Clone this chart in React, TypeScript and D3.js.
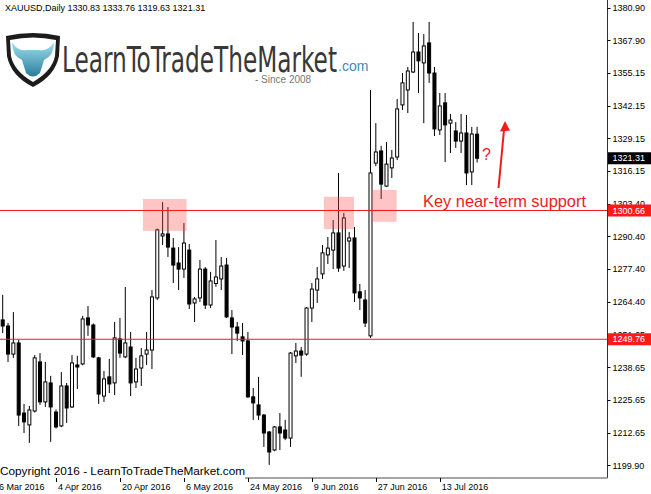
import React from 'react';
import * as d3 from 'd3';

const opens = [1257.4,1255.0,1243.9,1248.3,1220.6,1215.9,1221.4,1240.8,1225.0,1232.5,1221.0,1215.5,1231.3,1223.0,1239.6,1240.0,1258.2,1255.4,1242.4,1227.3,1234.9,1232.5,1249.9,1242.8,1246.7,1232.9,1238.4,1243.9,1245.5,1266.1,1290.6,1291.4,1285.8,1279.9,1277.5,1285.0,1264.1,1266.1,1277.5,1263.3,1271.8,1273.6,1279.1,1258.2,1254.6,1250.7,1249.1,1227.0,1223.8,1219.8,1213.1,1206.0,1215.1,1213.9,1210.7,1243.2,1245.1,1243.9,1262.1,1269.2,1275.6,1283.1,1285.0,1291.8,1278.7,1288.6,1289.8,1268.5,1265.3,1251.1,1319.4,1324.2,1310.3,1317.5,1321.8,1342.4,1348.3,1355.4,1363.3,1359.0,1366.9,1355.0,1332.5,1343.2,1335.2,1332.1,1328.1,1331.3,1315.9,1330.83];
const highs = [1267.3,1256.2,1260.5,1249.5,1224.2,1223.4,1243.5,1244.3,1240.8,1235.3,1222.0,1236.8,1232.5,1243.5,1243.2,1259.0,1262.9,1256.0,1242.8,1237.2,1242.0,1256.6,1258.2,1270.4,1252.6,1242.4,1246.3,1252.6,1269.2,1293.5,1304.0,1302.0,1289.8,1286.2,1295.7,1287.4,1266.5,1281.1,1278.3,1276.4,1289.0,1282.3,1281.9,1261.3,1256.6,1256.2,1252.6,1230.5,1234.9,1220.2,1213.5,1215.5,1220.6,1217.9,1244.7,1248.3,1246.7,1262.5,1272.0,1278.3,1287.0,1290.2,1296.9,1315.5,1299.7,1292.2,1294.1,1271.6,1269.2,1348.3,1335.2,1326.2,1327.7,1324.6,1344.7,1355.0,1357.4,1375.2,1370.8,1370.4,1375.2,1357.4,1347.1,1347.1,1338.8,1335.6,1338.8,1338.4,1333.7,1333.76];
const lows = [1252.2,1240.8,1242.4,1215.5,1212.7,1208.8,1220.8,1223.8,1223.0,1209.2,1214.5,1215.0,1216.7,1222.6,1230.1,1239.5,1251.1,1242.3,1224.2,1225.0,1228.5,1227.7,1242.4,1242.3,1227.3,1230.5,1231.3,1239.6,1238.0,1265.3,1287.0,1282.3,1272.0,1269.2,1274.0,1261.7,1256.6,1264.5,1261.7,1262.1,1270.5,1269.2,1258.2,1243.9,1249.1,1243.5,1226.6,1217.9,1217.9,1207.2,1200.1,1205.5,1206.0,1209.9,1207.2,1240.4,1234.9,1243.2,1256.6,1264.1,1273.6,1279.5,1277.5,1276.4,1276.8,1277.9,1264.5,1261.3,1254.6,1250.3,1318.2,1305.2,1310.0,1313.5,1320.6,1340.4,1339.2,1355.0,1347.1,1335.2,1351.1,1330.1,1330.5,1319.8,1323.4,1325.4,1323.4,1310.7,1310.7,1319.63];
const closes = [1255.0,1243.9,1248.3,1219.8,1217.1,1221.8,1242.4,1225.0,1232.9,1223.0,1215.1,1231.3,1222.6,1240.4,1238.8,1257.8,1255.4,1242.8,1228.1,1234.1,1232.1,1250.3,1244.3,1248.3,1232.5,1238.0,1243.2,1245.5,1266.5,1293.0,1291.4,1286.2,1279.1,1277.5,1287.8,1263.7,1265.7,1277.5,1263.3,1272.8,1274.4,1278.7,1258.6,1254.6,1252.2,1249.1,1227.0,1224.6,1219.8,1212.7,1205.2,1215.1,1212.7,1210.7,1244.3,1245.1,1243.5,1262.1,1269.6,1273.6,1283.9,1285.8,1291.8,1277.9,1297.7,1289.8,1268.1,1266.1,1256.2,1315.5,1323.8,1311.1,1319.0,1321.4,1340.8,1351.1,1355.8,1363.3,1359.8,1365.7,1355.0,1332.9,1342.0,1334.5,1336.4,1328.1,1331.3,1315.5,1330.9,1321.31];

const priceTicks = [1380.90,1367.90,1355.15,1342.15,1329.15,1316.15,1303.40,1290.40,1277.40,1264.40,1251.65,1238.65,1225.65,1212.65,1199.90];
const dateTickIndex = [-2, 10, 22, 34, 46, 58, 70, 82];
const dateTickLabels = ['16 Mar 2016','4 Apr 2016','20 Apr 2016','6 May 2016','24 May 2016','9 Jun 2016','27 Jun 2016','13 Jul 2016'];

const supportLevel = 1300.66;
const lowerLevel = 1249.76;
const lastPrice = 1321.31;

// highlighted zones: start index, end index, low price, high price
const zoneStart = [26.3, 60.25, 69.2];
const zoneEnd = [34.5, 65.9, 73.9];
const zoneLow = [1292.6, 1293.3, 1296.2];
const zoneHigh = [1305.2, 1306.1, 1308.8];

const headerText = 'XAUUSD,Daily  1330.83 1333.76 1319.63 1321.31';
const annotationText = 'Key near-term support';
const copyrightText = 'Copyright 2016 - LearnToTradeTheMarket.com';

const W = 651, H = 494;
const plotRight = 607.5;
const plotBottom = 478;
const RED = '#ee1c1c';
const FONT = "'Liberation Sans', Arial, sans-serif";

export default function App() {
  const y = d3.scaleLinear().domain([1199.9, 1380.9]).range([465.4, 7.5]);
  const x = d3.scaleLinear().domain([0, 89]).range([2.7, 477.1]);

  return (
    <svg width={W} height={H} style={{ position: 'absolute', left: 0, top: 0, background: '#fff' }} fontFamily={FONT}>
      <defs>
        <linearGradient id="teal" x1="0" y1="0" x2="0" y2="1">
          <stop offset="0" stopColor="#9fe0f0" />
          <stop offset="1" stopColor="#2a7d9c" />
        </linearGradient>
        <clipPath id="plotClip">
          <rect x={0} y={0} width={plotRight} height={plotBottom} />
        </clipPath>
      </defs>
      <rect x={0} y={0} width={W} height={H} fill="#fff" />

      {/* header */}
      <text x={5} y={11} fontSize={9} fill="#000">{headerText}</text>

      {/* logo */}
      <g>
        <path d="M6 36 Q33 30 60 36 L59 56 Q55 76 33 87 Q11 76 7 56 Z" fill="#1c1c1c" />
        <path d="M10 40 Q33 35 56 40 L55 56 Q52 71 33 82 Q14 71 11 56 Z" fill="#fff" />
        <path d="M12 42 Q18 52 27 50 L39 50 Q48 52 54 42 Q54 56 44 60 L40 73 Q33 80 26 73 L22 60 Q12 56 12 42 Z" fill="url(#teal)" />
        <text x={62} y={72} fontSize={36} fill="#383838" fontFamily="'Liberation Sans Narrow', 'DejaVu Sans Condensed', sans-serif" textLength={275} lengthAdjust="spacingAndGlyphs">LearnToTradeTheMarket</text>
        <text x={338} y={71} fontSize={14} fill="#3a8db5">.com</text>
        <text x={255} y={83} fontSize={10} fill="#777">- Since 2008</text>
      </g>

      {/* candles */}
      <g clipPath="url(#plotClip)">
        {opens.map((o, i) => {
          const c = closes[i];
          const cx = x(i);
          const bull = c >= o;
          const top = y(Math.max(o, c));
          const bot = y(Math.min(o, c));
          return (
            <g key={i}>
              <line x1={cx} x2={cx} y1={y(highs[i])} y2={y(lows[i])} stroke="#000" strokeWidth={1} />
              <rect x={cx - 1.5} y={top} width={3} height={Math.max(bot - top, 1)} fill={bull ? '#fff' : '#000'} stroke="#000" strokeWidth={1} />
            </g>
          );
        })}
        {/* zones */}
        {zoneStart.map((s, i) => (
          <rect key={i} x={x(s)} y={y(zoneHigh[i])} width={x(zoneEnd[i]) - x(s)} height={y(zoneLow[i]) - y(zoneHigh[i])} fill="rgba(255,80,80,0.33)" />
        ))}
        {/* levels */}
        <line x1={0} x2={plotRight} y1={y(supportLevel)} y2={y(supportLevel)} stroke={RED} strokeWidth={1} />
        <line x1={0} x2={plotRight} y1={y(lowerLevel)} y2={y(lowerLevel)} stroke={RED} strokeWidth={1} />
      </g>

      {/* annotations */}
      <text x={423} y={207} fontSize={16.4} fill={RED} textLength={163} lengthAdjust="spacingAndGlyphs">{annotationText}</text>
      <text x={482} y={160} fontSize={16} fill={RED}>?</text>
      <line x1={498.5} y1={188} x2={504} y2={130} stroke={RED} strokeWidth={2} />
      <path d="M505 121 L500 131.5 L510 130.5 Z" fill={RED} />

      {/* copyright */}
      <text x={0} y={475} fontSize={11.7} fill="#000" textLength={245} lengthAdjust="spacingAndGlyphs">{copyrightText}</text>

      {/* frame */}
      <line x1={plotRight} x2={plotRight} y1={0} y2={plotBottom} stroke="#333" strokeWidth={1} />
      <line x1={245} x2={plotRight} y1={plotBottom} y2={plotBottom} stroke="#888" strokeWidth={1.5} />

      {/* right axis */}
      {priceTicks.map((p, i) => (
        <g key={i}>
          <line x1={plotRight} x2={plotRight + 3} y1={Math.round(y(p)) + 0.5} y2={Math.round(y(p)) + 0.5} stroke="#000" />
          <text x={612.5} y={y(p)} dy="0.35em" fontSize={9} fill="#000">{p.toFixed(2)}</text>
        </g>
      ))}
      {[supportLevel, lowerLevel].map((p, i) => (
        <g key={'r' + i}>
          <rect x={plotRight + 0.5} y={y(p) - 6} width={W - plotRight} height={12} fill="#ff1a1a" />
          <text x={612.5} y={y(p)} dy="0.35em" fontSize={9} fill="#fff">{p.toFixed(2)}</text>
        </g>
      ))}
      <rect x={plotRight + 0.5} y={y(lastPrice) - 6} width={W - plotRight} height={12} fill="#000" />
      <text x={612.5} y={y(lastPrice)} dy="0.35em" fontSize={9} fill="#fff">{lastPrice.toFixed(2)}</text>

      {/* bottom axis */}
      {dateTickIndex.map((di, i) => (
        <g key={'d' + i}>
          <line x1={Math.round(x(di)) + 0.5} x2={Math.round(x(di)) + 0.5} y1={plotBottom} y2={plotBottom + 4} stroke="#000" />
          <text x={x(di) + 2} y={490} fontSize={9} fill="#000">{dateTickLabels[i]}</text>
        </g>
      ))}
    </svg>
  );
}
